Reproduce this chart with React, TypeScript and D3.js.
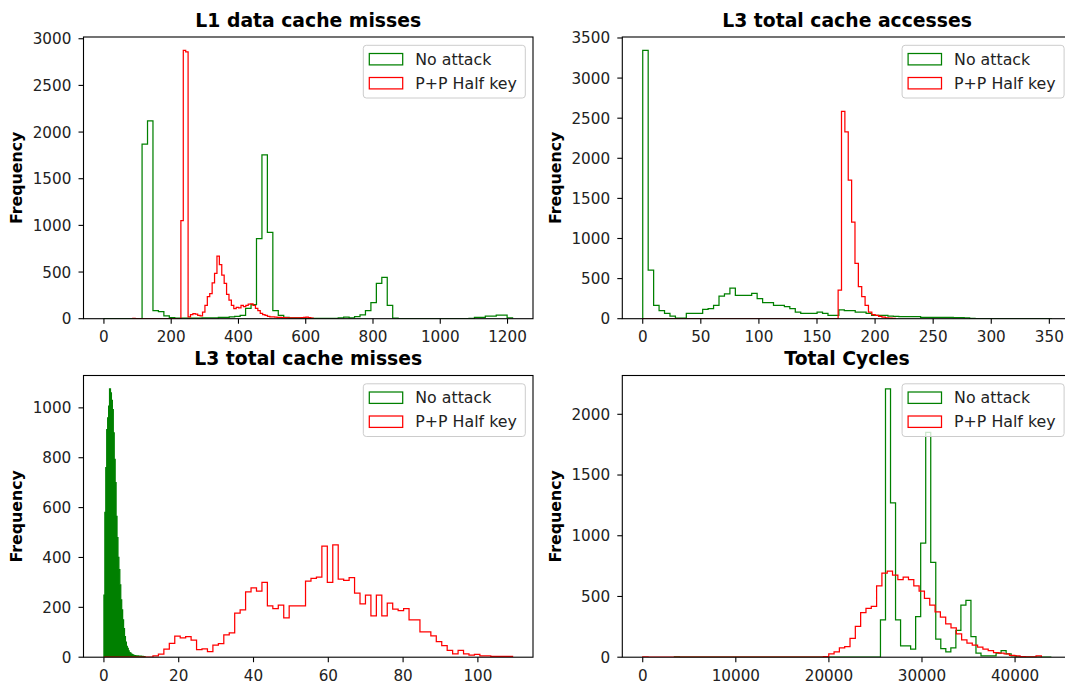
import React from 'react';
import * as d3 from 'd3';

const WIDTH = 1065;
const HEIGHT = 686;
const FONT = '"DejaVu Sans", sans-serif';

const seriesLabels = ['No attack', 'P+P Half key'];
const seriesColors = ['green', 'red'];

// L1 data cache misses (counts per bin)
const l1NoAttack = [
  2, 0, 0, 0, 0, 0, 0, 1870, 2120, 86,
  75, 30, 12, 6, 5, 5, 6, 6, 8, 10,
  10, 14, 14, 20, 25, 36, 110, 150, 857, 1756,
  924, 86, 36, 14, 10, 8, 6, 4, 3, 3,
  3, 3, 3, 8, 18, 10, 22, 40, 86, 171,
  378, 443, 143, 5, 2, 1, 1, 0, 0, 0,
  0, 0, 0, 0, 1, 1, 2, 4, 14, 14,
  28, 28, 39, 39, 10,
];
const l1HalfKey = [
  3, 0, 0, 0, 0, 0, 0, 0, 0, 0,
  0, 0, 0, 0, 0, 0, 0, 0, 0, 0,
  1050, 2875, 2860, 20, 45, 55, 50, 35, 30, 70,
  143, 236, 270, 385, 485, 671, 580, 468, 378, 260,
  200, 143, 107, 121, 115, 143, 130, 143, 157, 160,
  143, 110, 86, 57, 45, 36, 25, 20, 20, 18,
  15, 14, 12, 12, 10, 10, 10, 8, 8, 10,
  12, 14, 16, 12, 6,
];

// L3 total cache accesses
const l3AccNoAttack = [
  3345, 607, 166, 100, 66, 33, 8, 8, 66, 66,
  66, 116, 125, 166, 283, 308, 382, 291, 291, 291,
  316, 249, 200, 200, 166, 166, 150, 125, 83, 66,
  66, 66, 83, 66, 42, 40, 110, 100, 100, 83,
  83, 66, 42, 42, 40, 33, 30, 25, 25, 25,
  25, 17, 17, 17, 15, 15, 15, 12, 12, 10,
  4, 2, 1, 0, 0, 0, 0, 0, 0, 0,
  0, 0, 0, 0, 1,
];
const l3AccHalfKey = [
  2, 0, 0, 0, 0, 0, 0, 0, 0, 0,
  0, 0, 0, 0, 0, 0, 0, 0, 0, 0,
  0, 0, 0, 0, 0, 0, 0, 0, 0, 0,
  0, 0, 0, 0, 0, 0, 0, 0, 0, 0,
  0, 0, 0, 0, 0, 0, 0, 0, 0, 0,
  0, 0, 0, 0, 0, 0, 0, 0, 357, 2585,
  2328, 1729, 1205, 690, 399, 274, 166, 83, 50, 40,
  30, 20, 10, 8, 5,
];

// L3 total cache misses
const l3MissNoAttack = [
  249, 581, 760, 913, 960, 1007, 1076, 1060, 1030, 993,
  900, 793, 700, 565, 480, 400, 351, 290, 230, 190,
  150, 115, 83, 60, 43, 35, 25, 18, 16, 12,
  10, 8, 6, 6, 5, 5, 5, 4, 4, 4,
  3, 3, 2, 2,
];
const l3MissHalfKey = [
  0, 0, 0, 0, 0, 0, 0, 0, 0, 5,
  12, 32, 55, 85, 78, 83, 68, 30, 33, 22,
  48, 54, 90, 98, 177, 190, 262, 278, 265, 300,
  206, 195, 209, 158, 206, 206, 206, 305, 316, 321,
  445, 300, 450, 313, 308, 319, 257, 214, 249, 166,
  249, 166, 217, 193, 187, 195, 150, 150, 102, 102,
  86, 62, 46, 27, 13, 27, 13, 8, 11, 5,
  5, 3, 3, 3, 3,
];

// Total Cycles
const cyclesNoAttack = [
  2, 0, 0, 0, 0, 0, 0, 0, 0, 0,
  0, 0, 0, 0, 0, 0, 0, 0, 0, 0,
  0, 0, 0, 0, 0, 0, 0, 0, 0, 0,
  0, 0, 0, 0, 0, 0, 0, 0, 0, 0,
  0, 308, 2209, 1270, 308, 93, 93, 66, 335, 940,
  1852, 780, 148, 71, 44, 77, 220, 429, 467, 170,
  33, 11, 11, 11, 33, 55, 27, 11, 3, 1,
  0, 0, 0, 1, 0,
];
const cyclesHalfKey = [
  2, 0, 0, 0, 0, 0, 0, 0, 0, 0,
  0, 0, 0, 0, 0, 0, 0, 0, 0, 0,
  0, 0, 0, 0, 0, 0, 0, 0, 0, 0,
  0, 0, 0, 0, 5, 27, 44, 77, 88, 154,
  253, 368, 401, 418, 588, 692, 709, 676, 638, 660,
  638, 588, 544, 484, 429, 374, 330, 275, 242, 192,
  143, 115, 99, 82, 66, 55, 38, 33, 27, 16,
  11, 5, 3, 3, 11,
];

const xTicksL1 = [0, 200, 400, 600, 800, 1000, 1200];
const yTicksL1 = [0, 500, 1000, 1500, 2000, 2500, 3000];
const xTicksAcc = [0, 50, 100, 150, 200, 250, 300, 350];
const yTicksAcc = [0, 500, 1000, 1500, 2000, 2500, 3000, 3500];
const xTicksMiss = [0, 20, 40, 60, 80, 100];
const yTicksMiss = [0, 200, 400, 600, 800, 1000];
const xTicksCycles = [0, 10000, 20000, 30000, 40000];
const yTicksCycles = [0, 500, 1000, 1500, 2000];

type Hist = { start: number; step: number; counts: number[]; filled?: boolean };
type PanelSpec = { title: string; series: Hist[]; xTicks: number[]; yTicks: number[] };

const panels: PanelSpec[] = [
  {
    title: 'L1 data cache misses',
    series: [
      { start: 0, step: 16.2, counts: l1NoAttack },
      { start: 85.8, step: 7.15, counts: l1HalfKey },
    ],
    xTicks: xTicksL1,
    yTicks: yTicksL1,
  },
  {
    title: 'L3 total cache accesses',
    series: [
      { start: 0, step: 4.69, counts: l3AccNoAttack },
      { start: 0, step: 2.9, counts: l3AccHalfKey },
    ],
    xTicks: xTicksAcc,
    yTicks: yTicksAcc,
  },
  {
    title: 'L3 total cache misses',
    series: [
      { start: 0, step: 0.25, counts: l3MissNoAttack, filled: true },
      { start: 0, step: 1.457, counts: l3MissHalfKey },
    ],
    xTicks: xTicksMiss,
    yTicks: yTicksMiss,
  },
  {
    title: 'Total Cycles',
    series: [
      { start: 3400, step: 540, counts: cyclesNoAttack },
      { start: 0, step: 571, counts: cyclesHalfKey },
    ],
    xTicks: xTicksCycles,
    yTicks: yTicksCycles,
  },
];

const AXW = 449.5;
const AXH = 281.7;
const COLS = [83.5, 622.3];
const ROWS = [37, 375.5];

// outline of a step histogram, same as matplotlib histtype='step'
function histPoints(h: Hist): [number, number][] {
  const pts: [number, number][] = [[h.start, 0]];
  h.counts.forEach((c, i) => pts.push([h.start + i * h.step, c]));
  pts.push([h.start + h.counts.length * h.step, 0]);
  return pts;
}

function Panel({ spec, left, top, id }: { spec: PanelSpec; left: number; top: number; id: string }) {
  const lo = d3.min(spec.series, s => s.start) as number;
  const hi = d3.max(spec.series, s => s.start + s.counts.length * s.step) as number;
  const pad = (hi - lo) * 0.05;
  const x = d3.scaleLinear().domain([lo - pad, hi + pad]).range([left, left + AXW]);
  const yMax = (d3.max(spec.series, s => d3.max(s.counts) as number) as number) * 1.05;
  const y = d3.scaleLinear().domain([0, yMax]).range([top + AXH, top]);
  const line = d3
    .line<[number, number]>()
    .x(d => x(d[0]))
    .y(d => y(d[1]))
    .curve(d3.curveStepAfter);
  const fmt = d3.format('d');
  const bottom = top + AXH;
  const bx = left + AXW - 7.7 - 162;
  const by = top + 8.3;

  return (
    <g>
      <defs>
        <clipPath id={id}>
          <rect x={left} y={top} width={AXW} height={AXH} />
        </clipPath>
      </defs>
      <g clipPath={`url(#${id})`}>
        {spec.series.map((s, i) => (
          <path
            key={i}
            d={line(histPoints(s)) || ''}
            fill={s.filled ? seriesColors[i] : 'none'}
            stroke={seriesColors[i]}
            strokeWidth={1.25}
          />
        ))}
      </g>
      <rect x={left} y={top} width={AXW} height={AXH} fill="none" stroke="#000" strokeWidth={1.1} />

      {spec.xTicks.map(t => (
        <g key={'x' + t}>
          <line x1={x(t)} x2={x(t)} y1={bottom} y2={bottom + 5} stroke="#000" strokeWidth={1.1} />
          <text x={x(t)} y={bottom + 23.4} textAnchor="middle" fontSize={15.2} fill="#222">
            {fmt(t)}
          </text>
        </g>
      ))}
      {spec.yTicks.map(t => (
        <g key={'y' + t}>
          <line x1={left - 5} x2={left} y1={y(t)} y2={y(t)} stroke="#000" strokeWidth={1.1} />
          <text x={left - 12.2} y={y(t)} dy="0.36em" textAnchor="end" fontSize={15.2} fill="#222">
            {fmt(t)}
          </text>
        </g>
      ))}

      <text
        x={left + AXW / 2}
        y={top - 10.3}
        textAnchor="middle"
        fontSize={18.8}
        fontWeight="bold"
        fill="#000"
      >
        {spec.title}
      </text>
      <text
        transform={`translate(${left - 66.8},${top + AXH / 2}) rotate(-90)`}
        textAnchor="middle"
        dy="0.36em"
        fontSize={15.8}
        fontWeight="bold"
        fill="#000"
      >
        Frequency
      </text>

      <rect x={bx} y={by} width={162} height={52.7} rx={3} fill="#fff" fillOpacity={0.8} stroke="#cccccc" />
      {seriesLabels.map((lab, i) => (
        <g key={lab}>
          <rect
            x={bx + 6}
            y={by + 8.2 + i * 24}
            width={33.4}
            height={11.4}
            fill="none"
            stroke={seriesColors[i]}
            strokeWidth={1.25}
          />
          <text x={bx + 52} y={by + 13.9 + i * 24} dy="0.36em" fontSize={15.8} fill="#222">
            {lab}
          </text>
        </g>
      ))}
    </g>
  );
}

export default function App() {
  return (
    <svg
      width={WIDTH}
      height={HEIGHT}
      style={{ position: 'absolute', left: 0, top: 0, background: '#fff' }}
      fontFamily={FONT}
    >
      {panels.map((p, i) => (
        <Panel key={p.title} spec={p} id={'clip' + i} left={COLS[i % 2]} top={ROWS[Math.floor(i / 2)]} />
      ))}
    </svg>
  );
}
